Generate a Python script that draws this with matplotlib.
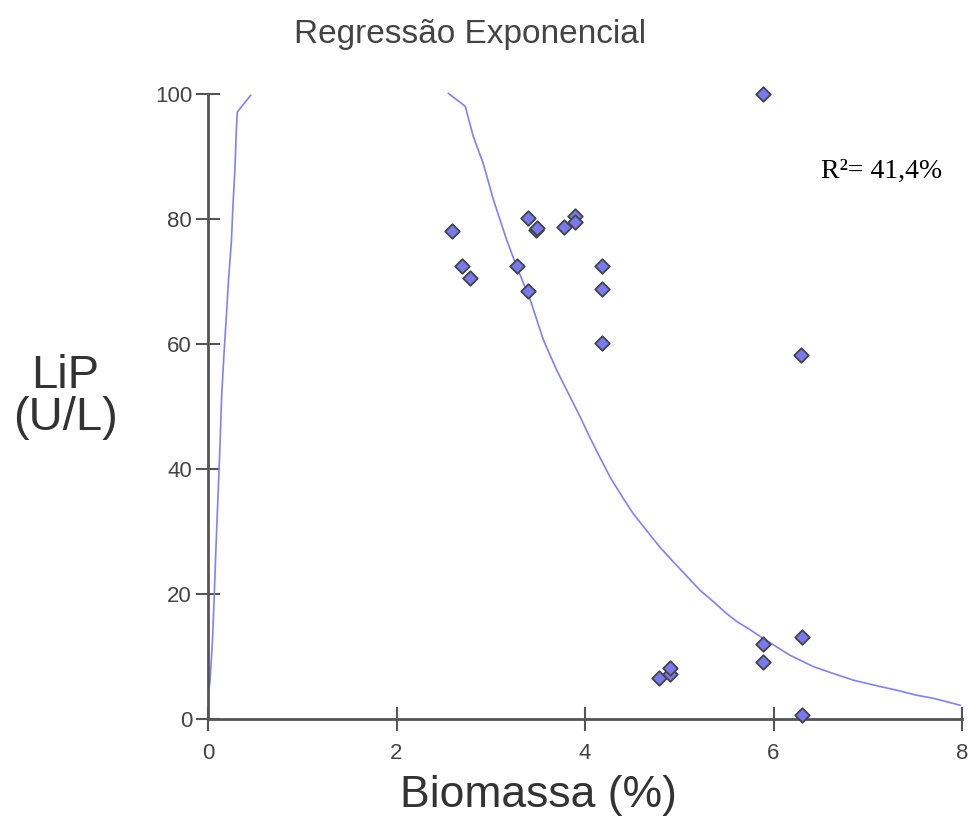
import matplotlib
matplotlib.use("Agg")
import matplotlib.pyplot as plt

# scatter data: biomass (%) vs LiP (U/L)
biomassa = [2.59, 2.69, 2.78, 3.28, 3.39, 3.39, 3.48, 3.49, 3.78, 3.89, 3.89,
            4.18, 4.18, 4.18, 5.89, 6.29, 4.79, 4.90, 4.90, 5.89, 5.89, 6.30, 6.30]
lip = [78.1, 72.5, 70.6, 72.5, 80.1, 68.5, 78.2, 78.6, 78.8, 80.4, 79.6,
       72.5, 68.8, 60.1, 100.0, 58.2, 6.5, 7.2, 8.2, 12.0, 9.2, 13.2, 0.6]

# fitted curve (two branches)
curva1_x = [0.005, 0.021, 0.046, 0.064, 0.085, 0.106, 0.127, 0.145, 0.170,
            0.195, 0.219, 0.248, 0.265, 0.286, 0.300, 0.311, 0.347, 0.453]
curva1_y = [4.2, 6.0, 12.1, 18.8, 27.6, 35.6, 43.7, 51.7, 58.5,
            64.5, 70.6, 76.3, 82.3, 88.0, 94.1, 97.1, 97.8, 99.8]
curva2_x = [2.55, 2.69, 2.73, 2.815, 2.92, 3.03, 3.17, 3.275, 3.42, 3.56, 3.70,
            3.84, 3.95, 4.05, 4.16, 4.27, 4.41, 4.51, 4.62, 4.72, 4.80, 4.94,
            5.04, 5.22, 5.36, 5.50, 5.61, 5.75, 5.89, 6.175, 6.42, 6.63, 6.85,
            7.13, 7.31, 7.52, 7.70, 7.98]
curva2_y = [100.1, 98.5, 98.0, 93.2, 88.9, 83.0, 76.6, 72.4, 67.0, 60.6, 55.8,
            51.6, 48.3, 45.1, 41.8, 38.6, 35.2, 32.9, 30.8, 28.9, 27.4, 25.1,
            23.5, 20.6, 18.8, 16.9, 15.6, 14.3, 12.9, 10.2, 8.4, 7.3, 6.2,
            5.2, 4.6, 3.8, 3.3, 2.2]

xticks = [0, 2, 4, 6, 8]
yticks = [0, 20, 40, 60, 80, 100]

plt.rcParams['font.family'] = ['Liberation Sans', 'DejaVu Sans']

fig = plt.figure(figsize=(9.71, 8.35), dpi=100)
ax = fig.add_axes([208/971, 116/835, 754/971, 625/835])

ax.plot(curva1_x, curva1_y, color='#8080ff', lw=1.2, clip_on=False)
ax.plot(curva2_x, curva2_y, color='#8080ff', lw=1.2, clip_on=False)
ax.scatter(biomassa, lip, marker='D', s=55, color='#7878f0',
           edgecolors='#444444', linewidths=1.3, zorder=3, clip_on=False)

ax.set_xlim(0, 8)
ax.set_ylim(0, 100)
ax.set_xticks(xticks)
ax.set_yticks(yticks)

for side in ['top', 'right']:
    ax.spines[side].set_visible(False)
for side in ['left', 'bottom']:
    ax.spines[side].set_color('#555555')
    ax.spines[side].set_linewidth(2)

ax.tick_params(direction='inout', length=17, width=1.5, color='#555555',
               labelsize=16, labelcolor='#444444')
ax.tick_params(axis='x', pad=9)
ax.tick_params(axis='y', pad=3)

fig.text(470/971, 1 - 35/835, 'Regressão Exponencial', ha='center', va='center',
         fontsize=24, color='#444444')
fig.text(65/971, 1 - 397/835, 'LiP\n(U/L)', ha='center', va='center',
         fontsize=34, color='#333333', linespacing=0.95)
fig.text(538/971, 1 - 795/835, 'Biomassa (%)', ha='center', va='center',
         fontsize=32, color='#333333')
fig.text(882/971, 1 - 171/835, 'R²= 41,4%', ha='center', va='center',
         fontsize=20, color='black', family=['Liberation Serif', 'DejaVu Serif'])

fig.savefig('out.png', dpi=100)
